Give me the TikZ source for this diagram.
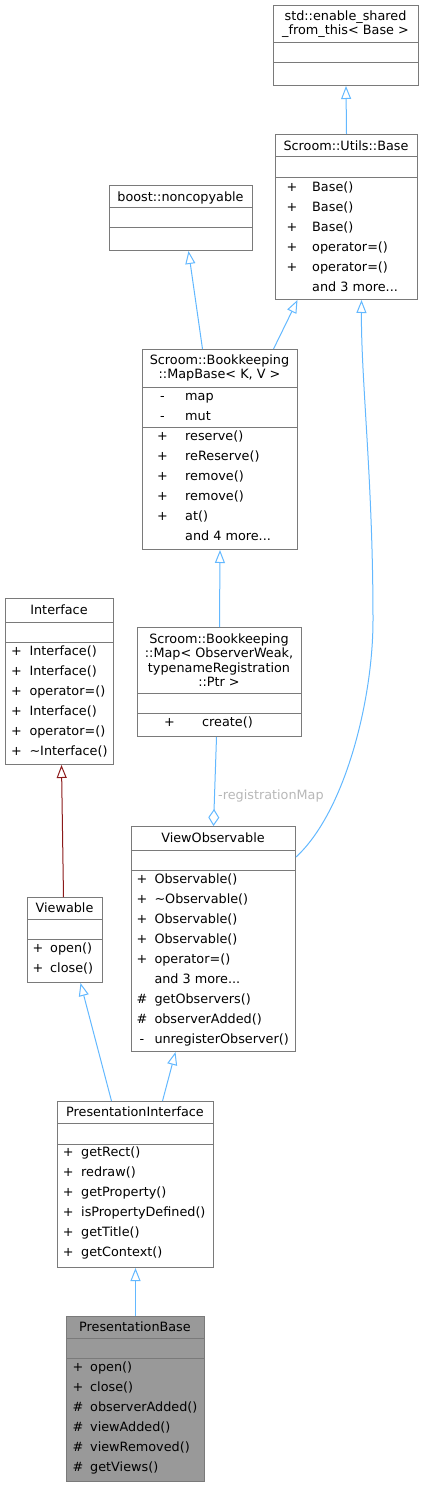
\documentclass[tikz,border=0pt]{standalone}
\usepackage{fontspec}
\setmainfont{DejaVu Sans}
\usetikzlibrary{arrows.meta}
\definecolor{edgeblue}{HTML}{63B8FF}
\definecolor{edgered}{HTML}{8B1A1A}
\definecolor{boxgray}{HTML}{7A7A7A}
\definecolor{labelgray}{HTML}{B8B8B8}
\definecolor{focusfill}{HTML}{999999}
\newcommand{\andmore}[1]{and #1 more...}
\tikzset{
  cls/.style={draw=boxgray, line width=1pt, inner sep=0pt, anchor=north west},
  sep/.style={draw=boxgray, line width=1pt},
  ttl/.style={inner sep=0pt, anchor=base},
  ttlm/.style={inner sep=0pt, align=center},
  sym/.style={inner sep=0pt, anchor=base},
  mem/.style={inner sep=0pt, anchor=base west},
  inh/.style={draw=edgeblue, line width=1pt, -{Triangle[open, length=13pt, width=10pt]}},
  inhred/.style={inh, draw=edgered},
  agg/.style={draw=edgeblue, line width=1pt, -{Diamond[open, length=17pt, width=11pt]}},
  lbl/.style={text=labelgray, inner sep=0pt, anchor=base west}
}
\begin{document}
\begin{tikzpicture}[x=1pt, y=-1pt, font=\fontsize{12.8}{14.5}\selectfont]
\useasboundingbox (0,0) rectangle (424,1487);
% std::enable_shared_from_this
\node[cls, minimum width=145pt, minimum height=80pt] (esft) at (273,5) {};
\draw[sep] (273,43) -- (418,43) (273,63) -- (418,63);
\node[ttlm] (esft-t) at (345.5,24) {std::enable\_shared\\\_from\_this< Base >};
% Scroom::Utils::Base
\node[cls, minimum width=142pt, minimum height=165pt] (ubase) at (275,134) {};
\draw[sep] (275,157) -- (417,157) (275,178) -- (417,178);
\node[ttl] (ubase-t) at (346,150.3) {Scroom::Utils::Base};
\foreach \s/\m [count=\i from 0] in {+/Base(), +/Base(), +/Base(), +/operator=(), +/operator=(), /\andmore{3}}
  {\node[sym] (ubase-s\i) at (292,191.5+20*\i) {\s};
   \node[mem] (ubase-m\i) at (312,191.5+20*\i) {\m};};
% boost::noncopyable
\node[cls, minimum width=143pt, minimum height=65pt] (nonc) at (109,185) {};
\draw[sep] (109,208) -- (252,208) (109,228) -- (252,228);
\node[ttl] (nonc-t) at (180.5,201.2) {boost::noncopyable};
% MapBase
\node[cls, minimum width=155pt, minimum height=200pt] (mapb) at (142,349) {};
\draw[sep] (142,387) -- (297,387) (142,427) -- (297,427);
\node[ttlm] (mapb-t) at (219.5,368) {Scroom::Bookkeeping\\::MapBase< K, V >};
\foreach \s/\m [count=\i from 0] in {-/map, -/mut, +/reserve(), +/reReserve(), +/remove(), +/remove(), +/at(), /\andmore{4}}
  {\node[sym] (mapb-s\i) at (162.5,400.5+20*\i) {\s};
   \node[mem] (mapb-m\i) at (185,400.5+20*\i) {\m};};
% Map
\node[cls, minimum width=164pt, minimum height=109pt] (mapr) at (137,627) {};
\draw[sep] (137,693) -- (301,693) (137,713) -- (301,713);
\node[ttlm] (mapr-t) at (219,660) {Scroom::Bookkeeping\\::Map< ObserverWeak,\\typenameRegistration\\::Ptr >};
\node[sym] (mapr-s0) at (169.5,726.5) {+};
\node[mem] (mapr-m0) at (202,726.5) {create()};
% Interface
\node[cls, minimum width=108pt, minimum height=166pt] (iface) at (5,598) {};
\draw[sep] (5,622) -- (113,622) (5,642) -- (113,642);
\node[ttl] (iface-t) at (59,614.7) {Interface};
\foreach \m [count=\i from 0] in {Interface(), Interface(), operator=(), Interface(), operator=(), \textasciitilde Interface()}
  {\node[sym] (iface-s\i) at (16.5,655.5+20*\i) {+};
   \node[mem] (iface-m\i) at (29.3,655.5+20*\i) {\m};};
% ViewObservable
\node[cls, minimum width=164pt, minimum height=225pt] (vobs) at (131,826) {};
\draw[sep] (131,850) -- (295,850) (131,870) -- (295,870);
\node[ttl] (vobs-t) at (213,842.7) {ViewObservable};
\foreach \s/\m [count=\i from 0] in {+/Observable(), +/\textasciitilde Observable(), +/Observable(), +/Observable(), +/operator=(), /\andmore{3}, \#/getObservers(), \#/observerAdded(), -/unregisterObserver()}
  {\node[sym] (vobs-s\i) at (142,883.5+20*\i) {\s};
   \node[mem] (vobs-m\i) at (154.3,883.5+20*\i) {\m};};
% Viewable
\node[cls, minimum width=75pt, minimum height=85pt] (view) at (27,897) {};
\draw[sep] (27,919) -- (102,919) (27,939) -- (102,939);
\node[ttl] (view-t) at (64.5,912.7) {Viewable};
\foreach \m [count=\i from 0] in {open(), close()}
  {\node[sym] (view-s\i) at (38,952.5+20*\i) {+};
   \node[mem] (view-m\i) at (50,952.5+20*\i) {\m};};
% PresentationInterface
\node[cls, minimum width=156pt, minimum height=166pt] (pint) at (57,1101) {};
\draw[sep] (57,1123) -- (213,1123) (57,1144) -- (213,1144);
\node[ttl] (pint-t) at (135,1116.7) {PresentationInterface};
\foreach \m [count=\i from 0] in {getRect(), redraw(), getProperty(), isPropertyDefined(), getTitle(), getContext()}
  {\node[sym] (pint-s\i) at (68.3,1156.5+20*\i) {+};
   \node[mem] (pint-m\i) at (81,1156.5+20*\i) {\m};};
% PresentationBase
\node[cls, fill=focusfill, minimum width=138pt, minimum height=165pt] (pbase) at (66,1316) {};
\draw[sep] (66,1338) -- (204,1338) (66,1358) -- (204,1358);
\node[ttl] (pbase-t) at (135,1331.7) {PresentationBase};
\foreach \s/\m [count=\i from 0] in {+/open(), +/close(), \#/observerAdded(), \#/viewAdded(), \#/viewRemoved(), \#/getViews()}
  {\node[sym] (pbase-s\i) at (78,1371.5+20*\i) {\s};
   \node[mem] (pbase-m\i) at (90,1371.5+20*\i) {\m};};
% edges
\draw[inh] (ubase.north) -- (esft.south);
\draw[inh] ([xshift=-17.5pt]mapb.north) -- ([xshift=7.5pt]nonc.south);
\draw[inh] ([xshift=53.5pt]mapb.north) -- ([xshift=-49pt]ubase.south);
\draw[inh] (mapr.north) -- (mapb.south);
\draw[agg] ([xshift=-3pt]mapr.south) -- (vobs.north);
\node[lbl] (regmap) at (218,799) {-registrationMap};
\draw[inh] ([yshift=-31pt]vobs.north east) .. controls (345,812) and (373,700) .. (373,620)
  .. controls (373,480) and (361,380) .. ([xshift=15pt]ubase.south);
\draw[inhred] ([xshift=-1.5pt]view.north) -- ([xshift=2pt]iface.south);
\draw[inh] ([xshift=-24pt]pint.north) -- ([xshift=15.5pt]view.south);
\draw[inh] ([xshift=27pt]pint.north) -- ([xshift=-38pt]vobs.south);
\draw[inh] (pbase.north) -- (pint.south);
\end{tikzpicture}
\end{document}
